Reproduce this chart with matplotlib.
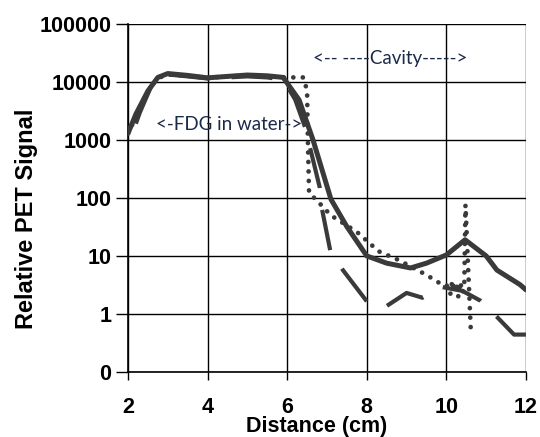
import numpy as np
import matplotlib.pyplot as plt
from matplotlib.ticker import FixedLocator, FixedFormatter

# ========= DATA =========
solid_x = [2.0, 2.2, 2.5, 2.75, 3.0, 3.5, 4.0, 4.5, 5.0, 5.5, 5.9, 6.3, 6.65,
           7.1, 7.5, 8.0, 8.5, 9.1, 9.5, 10.0, 10.47, 11.0, 11.27, 11.85, 12.0]
solid_y = [1300, 2800, 7000, 12000, 14000, 13000, 11800, 12500, 13200, 12800,
           12000, 4900, 1000, 95, 32, 10, 7.5, 6.2, 7.5, 10.4, 19, 10, 5.7, 3.2, 2.6]

dash_x = [2.05, 2.3, 2.6, 2.75, 3.0, 3.5, 4.0, 4.5, 5.0, 5.5, 5.9, 6.2, 6.45,
          6.82, 6.87, 7.08, 7.4, 8.03, 8.45, 9.0, 9.4, 9.9, 10.4, 10.85, 11.27,
          11.7, 12.0]
dash_y = [1000, 3000, 9000, 12000, 13500, 12500, 11500, 12000, 12500, 12000,
          11000, 5000, 1660, 150, 67, 12.6, 5.7, 1.55, 1.3, 2.3, 1.9, 2.9, 2.5,
          1.7, 0.89, 0.44, 0.44]

dot_x = [2.0, 2.3, 2.6, 2.8, 3.0, 3.5, 4.0, 4.5, 5.0, 5.5, 5.9, 6.12, 6.4, 6.5,
         6.52, 6.55, 6.62, 6.75, 7.1, 7.75, 8.3, 8.8, 9.5, 9.8, 10.0, 10.1,
         10.15, 10.2, 10.25, 10.3, 10.35, 10.4, 10.45, 10.48, 10.62]
dot_y = [1300, 3500, 9000, 12000, 13500, 12800, 11800, 12500, 13000, 12500,
         12000, 12000, 12000, 7200, 1000, 120, 110, 90, 50, 26, 12, 8.5, 4.7,
         3.5, 3.2, 2.2, 3.8, 2.4, 3.4, 2.0, 3.6, 2.3, 3.0, 76, 0.42]

y_ticks = [0.1, 1, 10, 100, 1000, 10000, 100000]
y_tick_labels = ["0", "1", "10", "100", "1000", "10000", "100000"]
x_ticks = [2, 4, 6, 8, 10, 12]
# =================================================

DPI = 100
plt.rcParams["font.family"] = ["Liberation Sans", "DejaVu Sans"]

fig = plt.figure(figsize=(5.4, 4.37), dpi=DPI)
ax = fig.add_axes([0.237, 0.149, 0.737, 0.796])

ax.set_yscale("log")
ax.set_ylim(0.1, 100000)
ax.set_xlim(2, 12)

line_col = "#3a3a3a"

# dash pattern (pixels), phased so a dash ends at the 7.08 cm point like Excel did
DASH_LW = 3.0
dash_px, gap_px = 41.0, 22.0
pts = ax.transData.transform(np.column_stack([dash_x, dash_y]))
seg = np.hypot(*np.diff(pts, axis=0).T)
L = seg[:dash_x.index(7.08)].sum()
off_px = (dash_px - L) % (dash_px + gap_px)
px2u = 72.0 / DPI / DASH_LW
dash_style = (off_px * px2u, (dash_px * px2u, gap_px * px2u))

ax.plot(solid_x, solid_y, color=line_col, lw=3.6, solid_capstyle="round",
        solid_joinstyle="round", zorder=4)
ax.plot(dash_x, dash_y, color=line_col, lw=DASH_LW, ls=dash_style,
        dash_capstyle="butt", zorder=3)
ax.plot(dot_x, dot_y, color=line_col, lw=3.4, ls=(0, (0.01, 2.0)),
        dash_capstyle="round", zorder=3)

ax.yaxis.set_major_locator(FixedLocator(y_ticks))
ax.yaxis.set_major_formatter(FixedFormatter(y_tick_labels))
ax.yaxis.set_minor_locator(FixedLocator([]))
ax.set_xticks(x_ticks)

ax.grid(True, color="black", lw=1.0)
ax.set_axisbelow(True)
for s in ["top", "right"]:
    ax.spines[s].set_visible(False)
for s in ["left", "bottom"]:
    ax.spines[s].set_linewidth(1.2)

ax.tick_params(axis="y", direction="out", length=9, width=1, pad=3, labelsize=15.5)
ax.tick_params(axis="x", direction="out", length=6, width=1, pad=12, labelsize=15.5)
for lab in ax.get_xticklabels() + ax.get_yticklabels():
    lab.set_fontweight("bold")

ax.set_xlabel("Distance (cm)", fontsize=15.5, fontweight="bold")
ax.xaxis.set_label_coords(0.473, -0.128)
ax.set_ylabel("Relative PET Signal", fontsize=17, fontweight="bold")
ax.yaxis.set_label_coords(-0.227, 0.44)

ax.text(4.54, 1820, "<-FDG in water->", fontsize=13.5, color="#1c2a4a",
        ha="center", va="center", family=["Lato", "DejaVu Sans"])
ax.text(8.58, 25900, "<-- ----Cavity----->", fontsize=13.5, color="#1c2a4a",
        ha="center", va="center", family=["Lato", "DejaVu Sans"])

plt.savefig("out.png", dpi=DPI)
plt.close()
